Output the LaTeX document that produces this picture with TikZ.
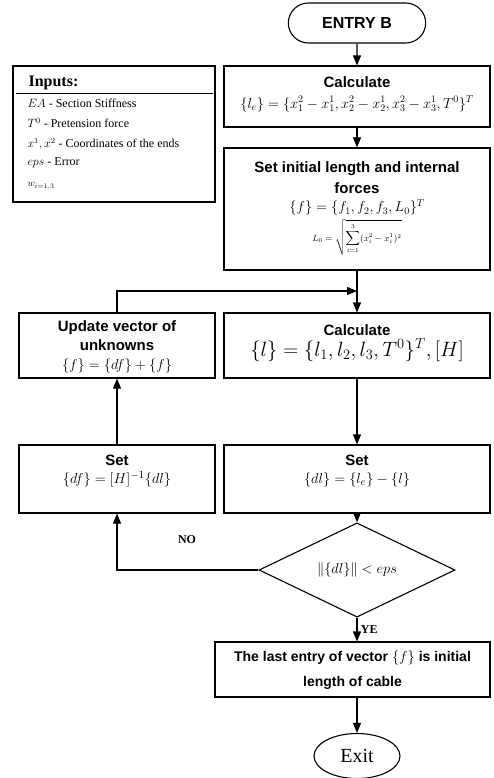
\documentclass[tikz,border=0pt]{standalone}
\usepackage{fontspec}
\setmainfont{Liberation Serif}
\newfontfamily\headfont{Liberation Sans}
\usetikzlibrary{arrows.meta,shapes.geometric,shapes.misc}
\newcommand{\hd}[1]{{\headfont\bfseries #1}}

\begin{document}
\begin{tikzpicture}[x=1pt,y=1pt,>={Triangle[length=10pt,width=8pt]},line width=1.1pt,
  box/.style={draw,minimum width=266,minimum height=61},
  lbox/.style={box,minimum width=196},
  txt/.style={align=center,inner sep=0pt,font=\fontsize{15}{21}\selectfont},
  item/.style={anchor=west,inner sep=0pt,font=\fontsize{12}{14}\selectfont}]
\useasboundingbox (0,0) rectangle (493,-778);
% boxes
\node[draw,rounded rectangle,minimum width=144,minimum height=40,font=\headfont\bfseries\fontsize{16}{18}\selectfont] (entry) at (357,-23) {ENTRY B};
\node[box] (calc1) at (357,-96.5) {};
\node[box,minimum height=122] (init) at (357,-209) {};
\node[box,minimum height=65] (calc2) at (357,-345.5) {};
\node[lbox,minimum height=65] (upd) at (117,-345.5) {};
\node[lbox,minimum height=68] (setL) at (117,-479) {};
\node[box,minimum height=68] (setR) at (357,-479) {};
\node[draw,diamond,minimum width=196,minimum height=70,inner sep=0pt,font=\fontsize{13.5}{15}\selectfont] (dec) at (357,-570) {$\bigl\|\{dl\}\bigr\|<eps$};
\node[box,minimum width=275,minimum height=55] (last) at (352.5,-669.5) {};
\node[draw,ellipse,minimum width=86,minimum height=45,font=\fontsize{20}{22}\selectfont] (exit) at (357,-756) {Exit};
% texts in boxes
\node[txt] (calc1t) at (357,-94) {\hd{Calculate}\\ {\fontsize{14}{16}\selectfont $\{l_e\}=\{x_1^2-x_1^1,x_2^2-x_2^1,x_3^2-x_3^1,T^0\}^T$}};
\node[txt] (initt) at (357,-209) {\hd{Set initial length and internal}\\ \hd{forces}\\[-3pt] {\fontsize{14}{16}\selectfont $\{f\}=\{f_1,f_2,f_3,L_0\}^T$}\\[3pt] {\fontsize{9}{11}\selectfont $\displaystyle L_0=\sqrt{\sum_{i=1}^{3}(x_i^2-x_i^1)^2}$}};
\node[txt] (calc2t) at (357,-343) {\hd{Calculate}\\ {\fontsize{21}{23}\selectfont $\{l\}=\{l_1,l_2,l_3,T^0\}^T,\big[H\big]$}};
\node[txt,font=\fontsize{15}{19}\selectfont] (updt) at (117,-347) {\hd{Update vector of}\\ \hd{unknowns}\\ {\fontsize{15}{17}\selectfont $\{f\}=\{df\}+\{f\}$}};
\node[txt,font=\fontsize{15}{18}\selectfont] (setLt) at (117,-471) {\hd{Set}\\ $\{df\}=[H]^{-1}\{dl\}$};
\node[txt,font=\fontsize{15}{18}\selectfont] (setRt) at (357,-471) {\hd{Set}\\ $\{dl\}=\{l_e\}-\{l\}$};
\node[txt,font=\headfont\bfseries\fontsize{14}{25}\selectfont] (lastt) at (352.5,-670) {The last entry of vector $\{f\}$ is initial\\ length of cable};
% inputs
\node[draw,minimum width=202,minimum height=136] (inputs) at (114,-134) {};
\node[anchor=west,inner sep=0pt,font=\bfseries\fontsize{16}{18}\selectfont] (intitle) at (28,-83) {Inputs:};
\draw ([shift={(4,-28)}]inputs.north west) -- ([shift={(-3,-28)}]inputs.north east);
\node[item] (in1) at (27,-103) {$EA$ - Section Stiffness};
\node[item] (in2) at (27,-123) {$T^0$ - Pretension force};
\node[item] (in3) at (27,-144) {$x^1, x^2$ - Coordinates of the ends};
\node[item] (in4) at (27,-163) {$eps$ - Error};
\node[item,font=\fontsize{10}{12}\selectfont] (in5) at (27,-186) {$w_{i=1,3}$};
% arrows
\coordinate (fb) at (357,-291);
\draw[->] (entry) -- (calc1);
\draw[->] (calc1) -- (init);
\draw[->] (init) -- (calc2);
\draw[->] (upd.north) |- (fb);
\draw[->] (calc2) -- (setR);
\draw[->] (setL) -- (upd);
\draw[->] (setR) -- (dec);
\draw[->] (dec.west) -| (setL.south);
\node[font=\bfseries\fontsize{12}{14}\selectfont] (no) at (187,-540) {NO};
\draw[->] (dec.south) -- (dec.south |- last.north) node[midway,right,font=\bfseries\fontsize{12}{14}\selectfont] (ye) {YE};
\draw[->] (last.south -| exit) -- (exit);
\end{tikzpicture}
\end{document}
